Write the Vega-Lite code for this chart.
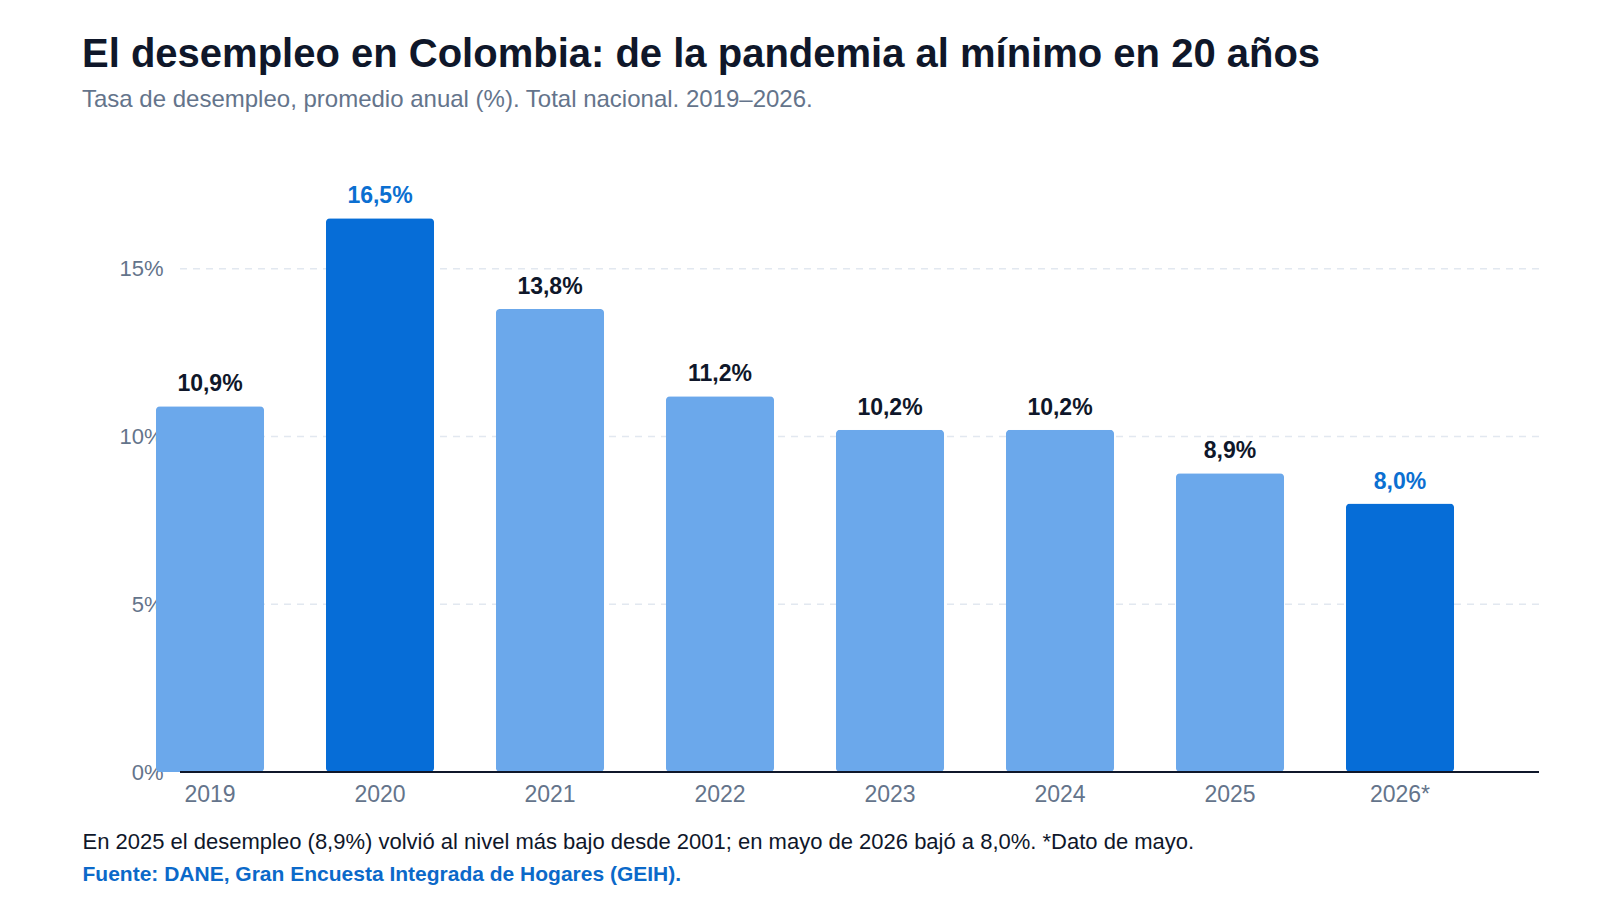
{
  "$schema": "https://vega.github.io/schema/vega-lite/v6.json",
  "autosize": {"type": "none"},
  "padding": {"left": 180, "top": 168, "right": 61, "bottom": 128},
  "width": 1359,
  "height": 604,
  "background": "#ffffff",
  "title": {
    "text": "El desempleo en Colombia: de la pandemia al mínimo en 20 años",
    "subtitle": "Tasa de desempleo, promedio anual (%). Total nacional. 2019–2026.",
    "anchor": "start",
    "frame": "group",
    "dx": -98,
    "offset": 56,
    "font": "Liberation Sans",
    "fontSize": 40,
    "fontWeight": "bold",
    "color": "#0f172a",
    "subtitleFont": "Liberation Sans",
    "subtitleFontSize": 24,
    "subtitleColor": "#64748b",
    "subtitlePadding": 13
  },
  "data": {
    "values": [
      {"anio": "2019", "tasa": 0.109, "destacado": "no"},
      {"anio": "2020", "tasa": 0.165, "destacado": "si"},
      {"anio": "2021", "tasa": 0.138, "destacado": "no"},
      {"anio": "2022", "tasa": 0.112, "destacado": "no"},
      {"anio": "2023", "tasa": 0.102, "destacado": "no"},
      {"anio": "2024", "tasa": 0.102, "destacado": "no"},
      {"anio": "2025", "tasa": 0.089, "destacado": "no"},
      {"anio": "2026*", "tasa": 0.080, "destacado": "si"}
    ]
  },
  "layer": [
    {
      "data": {"values": [{}]},
      "mark": {"type": "rule", "color": "#e2e8f0", "strokeDash": [7, 6], "strokeWidth": 1.5},
      "encoding": {"y": {"datum": 0.05, "type": "quantitative"}}
    },
    {
      "data": {"values": [{}]},
      "mark": {"type": "rule", "color": "#e2e8f0", "strokeDash": [7, 6], "strokeWidth": 1.5},
      "encoding": {"y": {"datum": 0.1, "type": "quantitative"}}
    },
    {
      "data": {"values": [{}]},
      "mark": {"type": "rule", "color": "#e2e8f0", "strokeDash": [7, 6], "strokeWidth": 1.5},
      "encoding": {"y": {"datum": 0.15, "type": "quantitative"}}
    },
    {
      "mark": {"type": "bar", "cornerRadius": 4},
      "encoding": {
        "x": {
          "field": "anio",
          "type": "ordinal",
          "sort": null,
          "scale": {"range": [-55, 1305], "paddingInner": 0.364, "paddingOuter": 0.182},
          "axis": {
            "orient": "bottom",
            "title": "En 2025 el desempleo (8,9%) volvió al nivel más bajo desde 2001; en mayo de 2026 bajó a 8,0%. *Dato de mayo.",
            "titleFont": "Liberation Sans",
            "titleFontSize": 22,
            "titleFontWeight": "normal",
            "titleColor": "#0f172a",
            "titleAnchor": "start",
            "titleAlign": "left",
            "titleBaseline": "alphabetic",
            "titleX": -98,
            "titleY": 76,
            "labelAngle": 0,
            "labelFont": "Liberation Sans",
            "labelFontSize": 23,
            "labelColor": "#64748b",
            "labelBaseline": "alphabetic",
            "labelPadding": 29,
            "ticks": false,
            "tickSize": 0,
            "domain": false,
            "grid": false
          }
        },
        "y": {
          "field": "tasa",
          "type": "quantitative",
          "scale": {"domain": [0, 0.18], "nice": false},
          "axis": {
            "title": null,
            "values": [0, 0.05, 0.1, 0.15],
            "format": ".0%",
            "labelFont": "Liberation Sans",
            "labelFontSize": 22,
            "labelColor": "#64748b",
            "labelPadding": 17,
            "ticks": false,
            "tickSize": 0,
            "domain": false,
            "grid": false,
            "zindex": 0
          }
        },
        "color": {
          "field": "destacado",
          "type": "nominal",
          "scale": {"domain": ["no", "si"], "range": ["#6ba8eb", "#066dd7"]},
          "legend": null
        }
      }
    },
    {
      "data": {"values": [{}]},
      "mark": {"type": "rule", "color": "#0f172a", "strokeWidth": 2},
      "encoding": {"y": {"datum": 0, "type": "quantitative"}}
    },
    {
      "mark": {
        "type": "text",
        "font": "Liberation Sans",
        "fontSize": 23,
        "fontWeight": "bold",
        "baseline": "alphabetic",
        "dy": -15
      },
      "encoding": {
        "x": {
          "field": "anio",
          "type": "ordinal",
          "sort": null,
          "axis": {
            "orient": "bottom",
            "title": "Fuente: DANE, Gran Encuesta Integrada de Hogares (GEIH).",
            "titleFont": "Liberation Sans",
            "titleFontSize": 21,
            "titleFontWeight": "bold",
            "titleColor": "#0b69c9",
            "titleAnchor": "start",
            "titleAlign": "left",
            "titleBaseline": "alphabetic",
            "titleX": -98,
            "titleY": 108,
            "labels": false,
            "ticks": false,
            "domain": false,
            "grid": false
          }
        },
        "y": {"field": "tasa", "type": "quantitative"},
        "text": {"field": "tasa", "type": "quantitative", "format": ".1%"},
        "color": {
          "field": "destacado",
          "type": "nominal",
          "scale": {"domain": ["no", "si"], "range": ["#0f172a", "#0b6fd1"]},
          "legend": null
        }
      }
    }
  ],
  "resolve": {"scale": {"color": "independent"}, "axis": {"x": "independent"}},
  "config": {
    "view": {"stroke": null},
    "locale": {
      "number": {
        "decimal": ",",
        "thousands": ".",
        "grouping": [3],
        "currency": ["", " $"]
      }
    }
  }
}
